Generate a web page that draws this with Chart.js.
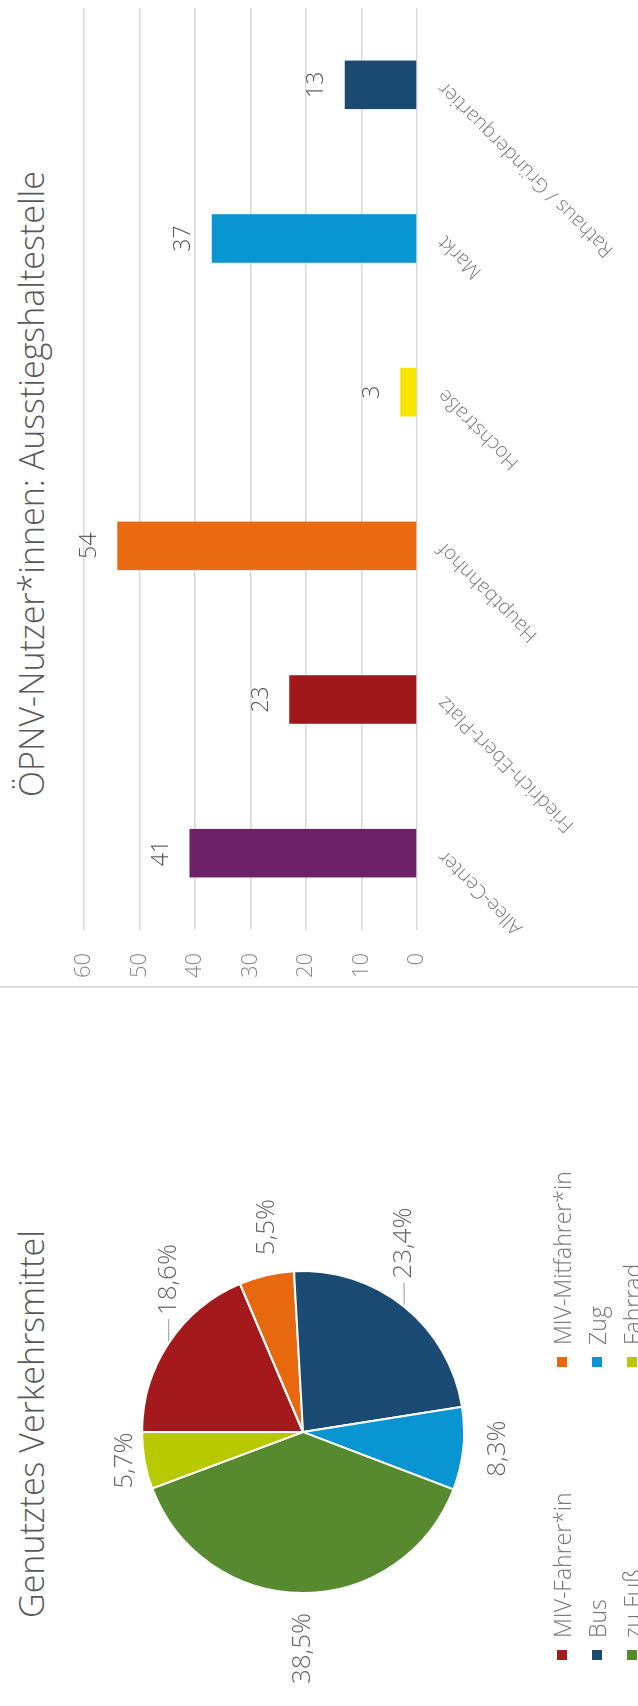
<!DOCTYPE html>
<html lang="de">
<head>
<meta charset="utf-8">
<script src="https://cdn.jsdelivr.net/npm/chart.js@4.4.1/dist/chart.umd.min.js"></script>
<style>
  html, body { margin: 0; padding: 0; width: 638px; height: 1706px; overflow: hidden; background: #fff; }
  /* the whole board is laid out landscape and turned a quarter to the left */
  #stage { position: absolute; left: 0; top: 1706px; width: 1706px; height: 638px;
           transform-origin: 0 0; transform: rotate(-90deg); overflow: hidden;
           font-family: "Open Sans", sans-serif; font-weight: 300; color: #595959; }
  .title { position: absolute; top: 11px; font-size: 34px; line-height: 40px; text-align: center; white-space: nowrap; }
  #pieTitle { left: 0; width: 564px; }
  #barTitle { left: 722px; width: 1000px; }
  #divider { position: absolute; left: 718px; top: 0; width: 2px; height: 638px; background: #dcdcdc; }
  #pieCanvas { position: absolute; left: 0; top: 0; }
  #barCanvas { position: absolute; left: 719px; top: 0; }
  #legend { position: absolute; left: 46px; top: 544px; display: grid; grid-template-columns: 293px auto;
            grid-auto-rows: 35px; font-size: 23px; color: #767676; }
  .item { display: flex; align-items: center; white-space: nowrap; }
  .box { width: 10px; height: 10px; margin-right: 12px; }
</style>
</head>
<body>
<div id="stage">
  <div class="title" id="pieTitle">Genutztes Verkehrsmittel</div>
  <canvas id="pieCanvas" width="548" height="606"></canvas>
  <div id="legend"></div>
  <div id="divider"></div>
  <div class="title" id="barTitle">ÖPNV-Nutzer*innen: Ausstiegshaltestelle</div>
  <canvas id="barCanvas" width="987" height="638"></canvas>
</div>
<script>
const modeLabels = ['MIV-Fahrer*in', 'MIV-Mitfahrer*in', 'Bus', 'Zug', 'zu Fuß', 'Fahrrad'];
const modeShares = [18.6, 5.5, 23.4, 8.3, 38.5, 5.7];
const modeColors = ['#a3191c', '#e8680f', '#1b4a72', '#0895d2', '#578a2e', '#b9c900'];

const stopLabels = ['Allee-Center', 'Friedrich-Ebert-Platz', 'Hauptbahnhof', 'Hochstraße', 'Markt', 'Rathaus / Gründerquartier'];
const stopValues = [41, 23, 54, 3, 37, 13];
const stopColors = ['#6d2166', '#a0181b', '#e96a10', '#f7e600', '#0895d2', '#1b4a72'];

const valueTicks = [0, 10, 20, 30, 40, 50, 60];

Chart.defaults.font.family = '"Open Sans", sans-serif';
Chart.defaults.font.weight = 300;
Chart.defaults.animation = false;

// legend under the pie, two columns
const legend = document.getElementById('legend');
modeLabels.forEach((name, i) => {
  const item = document.createElement('div');
  item.className = 'item';
  item.innerHTML = '<span class="box" style="background:' + modeColors[i] + '"></span>' + name;
  legend.appendChild(item);
});

// percent labels outside the slices
const pieLabels = {
  id: 'pieLabels',
  afterDatasetsDraw(chart) {
    const ctx = chart.ctx;
    ctx.save();
    ctx.font = '300 26px "Open Sans", sans-serif';
    ctx.fillStyle = '#666';
    ctx.strokeStyle = '#9a9a9a';
    ctx.lineWidth = 1;
    chart.getDatasetMeta(0).data.forEach((arc, i) => {
      const mid = (arc.startAngle + arc.endAngle) / 2;
      const c = Math.cos(mid), s = Math.sin(mid);
      const ex = arc.x + c * arc.outerRadius;
      const ey = arc.y + s * arc.outerRadius;
      const text = modeShares[i].toFixed(1).replace('.', ',') + '%';
      ctx.textBaseline = 'middle';
      if (Math.abs(c) > 0.5) {
        const dir = c > 0 ? 1 : -1;
        let gap = 20;
        if (Math.abs(c) < 0.9) {
          gap = 28;
          ctx.beginPath();
          ctx.moveTo(ex + dir * 2, ey);
          ctx.lineTo(ex + dir * 24, ey);
          ctx.stroke();
        }
        ctx.textAlign = dir > 0 ? 'left' : 'right';
        ctx.fillText(text, ex + dir * gap, ey);
      } else {
        ctx.textAlign = 'center';
        ctx.fillText(text, ex, ey + (s > 0 ? 34 : -20));
      }
    });
    ctx.restore();
  }
};

new Chart(document.getElementById('pieCanvas'), {
  type: 'pie',
  data: {
    labels: modeLabels,
    datasets: [{ data: modeShares, backgroundColor: modeColors, borderColor: '#fff', borderWidth: 2 }]
  },
  options: {
    responsive: false,
    layout: { padding: { left: 112, right: 112, top: 141, bottom: 141 } },
    plugins: { legend: { display: false }, tooltip: { enabled: false } }
  },
  plugins: [pieLabels]
});

// numbers above the bars
const barValues = {
  id: 'barValues',
  afterDatasetsDraw(chart) {
    const ctx = chart.ctx;
    ctx.save();
    ctx.font = '300 23px "Open Sans", sans-serif';
    ctx.fillStyle = '#555';
    ctx.textAlign = 'center';
    ctx.textBaseline = 'middle';
    chart.getDatasetMeta(0).data.forEach((bar, i) => {
      ctx.fillText(String(stopValues[i]), bar.x, bar.y - 28);
    });
    ctx.restore();
  }
};

new Chart(document.getElementById('barCanvas'), {
  type: 'bar',
  data: {
    labels: stopLabels,
    datasets: [{ data: stopValues, backgroundColor: stopColors, barPercentage: 0.316, categoryPercentage: 1 }]
  },
  options: {
    responsive: false,
    layout: { padding: { top: 84, right: 8, left: 0, bottom: 0 } },
    scales: {
      x: {
        grid: { display: false },
        border: { display: false },
        ticks: { minRotation: 45, maxRotation: 45, autoSkip: false, padding: 8, color: '#7a7a7a', font: { size: 20 } },
        afterFit: s => { s.height = 221; }
      },
      y: {
        min: valueTicks[0],
        max: valueTicks[valueTicks.length - 1],
        grid: { color: '#d9d9d9', lineWidth: 1.5, drawTicks: false },
        border: { display: false },
        ticks: { stepSize: valueTicks[1] - valueTicks[0], padding: 23, color: '#8a8a8a', font: { size: 22 } },
        afterFit: s => { s.width = 57; }
      }
    },
    plugins: { legend: { display: false }, tooltip: { enabled: false } }
  },
  plugins: [barValues]
});
</script>
</body>
</html>
